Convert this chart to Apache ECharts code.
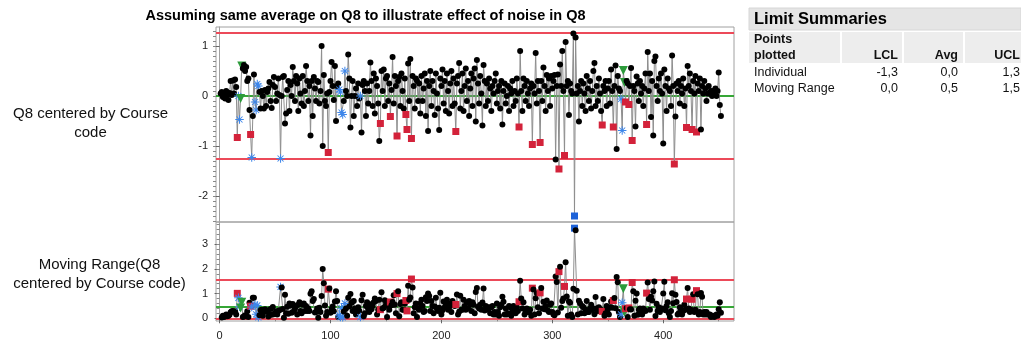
<!DOCTYPE html>
<html>
<head>
<meta charset="utf-8">
<script src="https://cdn.jsdelivr.net/npm/echarts@6/dist/echarts.min.js"></script>
<style>
  html, body { margin: 0; padding: 0; background: #ffffff; }
  #chart { width: 1021px; height: 343px; }
</style>
</head>
<body>
<div id="chart"></div>
<script>
// Individual values of Q8 centered by course code, one per response (1..452)
const individual = [
  0.05,0.08,-0.02,0.03,-0.05,0.10,0.02,-0.08,0.06,0.30,
  0.02,0.31,0.05,0.33,0.18,-0.83,0.00,-0.47,-0.05,0.60,
  0.55,0.62,0.50,0.58,0.30,0.35,-0.28,-0.77,-1.23,-0.40,
  0.43,-0.12,-0.28,0.24,0.20,0.08,-0.25,0.10,0.00,-0.25,
  0.12,-0.20,0.08,0.15,0.28,-0.10,-0.24,0.22,0.38,0.18,
  -0.10,0.05,0.35,0.02,-1.25,0.00,0.38,0.40,-0.55,-0.35,
  0.12,0.30,-0.30,0.22,0.00,0.58,0.30,-0.10,0.40,0.25,
  -0.30,0.35,0.05,-0.15,0.40,-0.20,0.10,0.60,0.30,-0.10,
  0.20,-0.79,0.30,-0.40,0.38,0.15,-0.10,0.30,0.28,-0.15,
  0.10,1.00,-1.00,0.42,-0.10,-0.20,0.05,-1.13,0.08,0.30,
  0.68,0.20,-0.08,0.60,-0.50,0.20,0.25,0.13,0.08,-0.33,
  -0.37,-0.10,0.50,0.10,0.00,0.83,0.35,-0.63,0.00,0.30,
  -0.40,0.00,0.15,-0.20,0.25,-0.05,0.00,-0.73,0.22,0.30,
  0.10,-0.40,0.25,-0.15,0.10,0.67,0.30,-0.20,0.45,-0.35,
  0.35,0.20,-0.15,-0.90,-0.55,0.50,0.10,0.53,-0.20,0.35,
  0.40,-0.10,0.25,-0.41,0.12,0.78,-0.15,0.40,0.20,-0.80,
  0.30,0.38,-0.20,0.45,0.10,-0.25,0.35,-0.37,-0.67,0.65,
  -0.10,0.74,-0.85,0.40,0.20,-0.25,0.35,0.30,-0.10,0.25,
  -0.35,0.40,-0.10,0.15,0.45,-0.40,0.30,-0.70,0.20,0.50,
  -0.20,0.30,0.10,-0.38,0.45,0.05,-0.25,-0.68,0.35,0.20,
  0.53,-0.15,0.30,-0.30,0.45,0.10,-0.35,0.25,0.50,-0.20,
  0.35,-0.15,-0.71,0.25,0.40,0.66,-0.25,0.10,0.45,-0.30,
  0.20,0.55,-0.10,0.30,-0.40,0.15,0.45,-0.20,0.35,0.55,
  -0.51,0.72,0.25,-0.15,0.40,0.05,-0.59,0.62,0.30,-0.20,
  0.25,-0.10,0.35,0.15,-0.30,0.20,0.05,0.30,0.45,-0.15,
  0.10,0.20,-0.25,0.30,-0.57,0.10,0.25,-0.15,0.00,0.20,
  -0.30,0.15,0.05,0.30,-0.20,0.10,-0.10,0.35,0.05,-0.62,
  0.90,0.10,-0.30,0.35,0.20,-0.10,0.30,0.05,-0.20,0.15,
  0.25,-0.97,0.20,0.05,0.86,-0.15,0.30,0.10,-0.93,0.30,
  -0.10,0.57,0.20,-0.30,0.42,0.10,0.35,-0.20,0.40,0.15,
  0.30,0.42,-1.27,0.20,0.43,-1.46,0.63,0.20,0.90,0.10,
  -1.19,1.08,0.20,0.30,-0.38,0.25,0.10,0.05,1.25,-2.40,
  1.17,0.05,0.20,-0.51,0.10,0.30,-0.20,0.25,0.05,-0.30,
  0.40,0.15,-0.10,0.30,-0.25,0.10,0.50,0.66,-0.20,0.20,
  -0.10,0.35,0.05,-0.30,-0.58,0.20,0.10,0.30,-0.20,0.15,
  0.30,-0.15,0.53,0.10,-0.62,0.20,0.61,-1.06,0.40,0.15,
  0.10,-0.06,-0.69,0.51,0.27,-0.12,0.30,0.25,-0.17,0.20,
  0.56,-0.89,0.20,0.10,-0.61,0.39,0.25,-0.10,0.30,0.05,
  0.20,-0.20,0.15,0.45,-0.57,0.88,0.10,0.45,-0.42,0.30,
  -0.79,0.70,0.79,0.20,-0.10,0.35,0.10,0.45,0.05,-0.95,
  0.53,0.20,-0.30,0.35,0.15,0.10,-0.20,0.81,0.20,-1.36,
  -0.41,0.25,0.10,0.30,-0.15,0.20,0.05,0.35,-0.20,0.15,
  -0.63,0.60,0.20,0.45,0.10,-0.67,0.30,0.05,0.40,-0.72,
  0.25,0.10,0.35,-0.67,0.20,0.05,0.30,0.15,-0.10,0.05,
  0.20,0.05,0.10,0.00,0.10,0.05,0.15,0.00,0.10,0.47,
  -0.18,-0.40
];

// Moving range between consecutive responses (none for the first one)
const movingRange = [
  null,0.03,0.10,0.05,0.08,0.15,0.08,0.10,0.14,0.24,
  0.28,0.29,0.26,0.28,0.15,1.01,0.83,0.47,0.42,0.65,
  0.05,0.07,0.12,0.08,0.28,0.05,0.63,0.49,0.46,0.83,
  0.83,0.55,0.16,0.52,0.04,0.12,0.33,0.35,0.10,0.25,
  0.37,0.32,0.28,0.07,0.13,0.38,0.14,0.46,0.16,0.20,
  0.28,0.15,0.30,0.33,1.27,1.25,0.38,0.02,0.95,0.20,
  0.47,0.18,0.60,0.52,0.22,0.58,0.28,0.40,0.50,0.15,
  0.55,0.65,0.30,0.20,0.55,0.60,0.30,0.50,0.30,0.40,
  0.30,0.99,1.09,0.70,0.78,0.23,0.25,0.40,0.02,0.43,
  0.25,0.90,2.00,1.42,0.52,0.10,0.25,1.18,1.21,0.22,
  0.38,0.48,0.28,0.68,1.10,0.70,0.05,0.12,0.05,0.41,
  0.04,0.27,0.60,0.40,0.10,0.83,0.48,0.98,0.63,0.30,
  0.70,0.40,0.15,0.35,0.45,0.30,0.05,0.73,0.95,0.08,
  0.20,0.50,0.65,0.40,0.25,0.57,0.37,0.50,0.65,0.80,
  0.70,0.15,0.35,0.75,0.35,1.05,0.40,0.43,0.73,0.55,
  0.05,0.50,0.35,0.66,0.53,0.66,0.93,0.55,0.20,1.00,
  1.10,0.08,0.58,0.65,0.35,0.35,0.60,0.72,0.30,1.32,
  0.75,0.84,1.59,1.25,0.20,0.45,0.60,0.05,0.40,0.35,
  0.60,0.75,0.50,0.25,0.30,0.85,0.70,1.00,0.90,0.30,
  0.70,0.50,0.20,0.48,0.83,0.40,0.30,0.43,1.03,0.15,
  0.33,0.68,0.45,0.60,0.75,0.35,0.45,0.60,0.25,0.70,
  0.55,0.50,0.56,0.96,0.15,0.26,0.91,0.35,0.35,0.75,
  0.50,0.35,0.65,0.40,0.70,0.55,0.30,0.65,0.55,0.20,
  1.06,1.23,0.47,0.40,0.55,0.35,0.64,1.21,0.32,0.50,
  0.45,0.35,0.45,0.20,0.45,0.50,0.15,0.25,0.15,0.60,
  0.25,0.10,0.45,0.55,0.87,0.67,0.15,0.40,0.15,0.20,
  0.50,0.45,0.10,0.25,0.50,0.30,0.20,0.45,0.30,0.67,
  1.52,0.80,0.40,0.65,0.15,0.30,0.40,0.25,0.25,0.35,
  0.10,1.22,1.17,0.15,0.81,1.01,0.45,0.20,1.03,1.23,
  0.40,0.67,0.37,0.50,0.72,0.32,0.25,0.55,0.60,0.25,
  0.15,0.12,1.69,1.47,0.23,1.89,2.09,0.43,0.70,0.80,
  1.29,2.27,0.88,0.10,0.68,0.63,0.15,0.05,1.20,3.65,
  3.57,1.12,0.15,0.71,0.61,0.20,0.50,0.45,0.20,0.35,
  0.70,0.25,0.25,0.40,0.55,0.35,0.40,0.16,0.86,0.40,
  0.30,0.45,0.30,0.35,0.28,0.78,0.10,0.20,0.50,0.35,
  0.15,0.45,0.68,0.43,0.72,0.82,0.41,1.67,1.46,0.25,
  0.05,0.16,0.63,1.20,0.24,0.39,0.42,0.05,0.42,0.37,
  0.36,1.45,1.09,0.10,0.71,1.00,0.14,0.35,0.40,0.25,
  0.15,0.40,0.35,0.30,1.02,1.45,0.78,0.35,0.87,0.72,
  1.09,1.49,0.09,0.59,0.30,0.45,0.25,0.35,0.40,1.00,
  1.48,0.33,0.50,0.65,0.20,0.05,0.30,1.01,0.61,1.56,
  0.95,0.66,0.15,0.20,0.45,0.35,0.15,0.30,0.55,0.35,
  0.78,1.23,0.40,0.25,0.35,0.77,0.97,0.25,0.35,1.12,
  0.97,0.15,0.25,1.02,0.87,0.15,0.25,0.15,0.25,0.15,
  0.15,0.15,0.05,0.10,0.10,0.05,0.10,0.15,0.10,0.37,
  0.65,0.22
];

// Responses flagged by the control-chart tests (1-based positions)
const redSquarePoints = [16,28,98,145,154,160,168,169,173,213,270,282,289,306,311,345,355,366,369,372,385,410,421,426,430];
const blueStarPoints = [17,18,29,32,33,34,35,55,108,109,110,111,113,127,362,363];
const greenTrianglePoints = [19,20,364,365];
const blueSquarePoints = [320];

// Control limits: [LCL, Avg, UCL]
const individualLimits = [-1.26, 0.0, 1.26];
const movingRangeLimits = [0.0, 0.474, 1.55];

// Axis ticks
const xTickValues = [0, 100, 200, 300, 400];
const xMinorTickValues = [50, 150, 250, 350, 450];
const individualTickValues = [-2, -1, 0, 1];
const movingRangeTickValues = [0, 1, 2, 3];

// Limit summary table
const summaryColumns = ['LCL', 'Avg', 'UCL'];
const summaryRows = ['Individual', 'Moving Range'];
const summaryValues = [['-1,3', '0,0', '1,3'], ['0,0', '0,5', '1,5']];

const FONT = '"Liberation Sans", Arial, Helvetica, sans-serif';
const RED_LINE = '#ec4a59';
const GREEN_LINE = '#36a636';

function minorSteps(lo, hi, step) {
  const out = [];
  for (let k = Math.round(lo / step); k * step <= hi + 1e-9; k++) out.push(+(k * step).toFixed(4));
  return out;
}

const STAR_PATH = 'path://M44,0L56,0L56,100L44,100Z M0,44L100,44L100,56L0,56Z ' +
  'M18.8,10.4L89.6,81.2L81.2,89.6L10.4,18.8Z M81.2,10.4L89.6,18.8L18.8,89.6L10.4,81.2Z';

const redSet = new Set(redSquarePoints);
const starSet = new Set(blueStarPoints);
const greenSet = new Set(greenTrianglePoints);
const blueSqSet = new Set(blueSquarePoints);

function styledPoints(values) {
  return values.map((v, k) => {
    const n = k + 1;
    const item = { value: [n, v === null ? '-' : v] };
    if (blueSqSet.has(n)) {
      item.symbol = 'rect'; item.symbolSize = 7; item.itemStyle = { color: '#1d62d8' };
    } else if (redSet.has(n)) {
      item.symbol = 'rect'; item.symbolSize = 7; item.itemStyle = { color: '#d3223a' };
    } else if (starSet.has(n)) {
      item.symbol = STAR_PATH; item.symbolSize = 8.5; item.itemStyle = { color: '#3d86ea' };
    } else if (greenSet.has(n)) {
      item.symbol = 'triangle'; item.symbolSize = 9; item.symbolRotate = 180; item.itemStyle = { color: '#2c9b3b' };
    }
    return item;
  });
}

function limitMarks(limits) {
  return {
    silent: true,
    symbol: ['none', 'none'],
    label: { show: false },
    z: 1,
    data: [
      { yAxis: limits[0], lineStyle: { color: RED_LINE, width: 2, type: 'solid' } },
      { yAxis: limits[1], lineStyle: { color: GREEN_LINE, width: 2, type: 'solid' } },
      { yAxis: limits[2], lineStyle: { color: RED_LINE, width: 2, type: 'solid' } }
    ]
  };
}

const X_MIN = -3.2, X_MAX = 463.8;
const Y1_MIN = -2.52, Y1_MAX = 1.38;
const Y2_MIN = -0.11, Y2_MAX = 3.9;

const labelStyle = { color: '#222', fontFamily: FONT, fontSize: 11 };

function mainYAxis(grid, min, max, ticks) {
  return {
    type: 'value', gridIndex: grid, min: min, max: max, position: 'left',
    axisLine: { show: true, lineStyle: { color: '#a0a0a0' } },
    axisTick: { show: true, length: 5, customValues: ticks, lineStyle: { color: '#666' } },
    axisLabel: Object.assign({ margin: 8, customValues: ticks }, labelStyle),
    splitLine: { show: false }
  };
}
function minorYAxis(grid, min, max, ticks) {
  return {
    type: 'value', gridIndex: grid, min: min, max: max, position: 'left',
    axisLine: { show: false },
    axisTick: { show: true, length: 3, customValues: ticks, lineStyle: { color: '#888' } },
    axisLabel: { show: false },
    splitLine: { show: false }
  };
}

const chart = echarts.init(document.getElementById('chart'), null, { renderer: 'canvas' });

const option = {
  animation: false,
  backgroundColor: '#ffffff',
  grid: [
    { left: 216, top: 27, width: 518, height: 195, show: true, borderColor: '#a0a0a0', borderWidth: 1 },
    { left: 216, top: 222, width: 518, height: 99, show: true, borderColor: '#a0a0a0', borderWidth: 1 }
  ],
  xAxis: [
    { type: 'value', gridIndex: 0, min: X_MIN, max: X_MAX,
      axisLine: { show: false }, axisTick: { show: false }, axisLabel: { show: false }, splitLine: { show: false } },
    { type: 'value', gridIndex: 1, min: X_MIN, max: X_MAX,
      axisLine: { show: true, lineStyle: { color: '#a0a0a0' } },
      axisTick: { show: true, length: 5, customValues: xTickValues, lineStyle: { color: '#666' } },
      axisLabel: Object.assign({ margin: 9, customValues: xTickValues }, labelStyle),
      splitLine: { show: false } },
    { type: 'value', gridIndex: 1, min: X_MIN, max: X_MAX, position: 'bottom',
      axisLine: { show: false },
      axisTick: { show: true, length: 3, customValues: xMinorTickValues, lineStyle: { color: '#888' } },
      axisLabel: { show: false }, splitLine: { show: false } }
  ],
  yAxis: [
    mainYAxis(0, Y1_MIN, Y1_MAX, individualTickValues),
    minorYAxis(0, Y1_MIN, Y1_MAX, minorSteps(-2.5, 1.3, 0.1)),
    mainYAxis(1, Y2_MIN, Y2_MAX, movingRangeTickValues),
    minorYAxis(1, Y2_MIN, Y2_MAX, minorSteps(0, 3.8, 0.2))
  ],
  series: [
    {
      name: 'Individual', type: 'line', xAxisIndex: 0, yAxisIndex: 0, z: 3,
      data: styledPoints(individual),
      showAllSymbol: true, symbol: 'circle', symbolSize: 6,
      itemStyle: { color: '#000000' },
      lineStyle: { color: '#8e8e8e', width: 1 },
      markLine: limitMarks(individualLimits)
    },
    {
      name: 'Moving Range', type: 'line', xAxisIndex: 1, yAxisIndex: 2, z: 3,
      data: styledPoints(movingRange),
      showAllSymbol: true, symbol: 'circle', symbolSize: 6,
      itemStyle: { color: '#000000' },
      lineStyle: { color: '#8e8e8e', width: 1 },
      markLine: limitMarks(movingRangeLimits)
    }
  ],
  graphic: (function () {
    const g = [];
    const txt = (x, y, text, opts) => g.push({
      type: 'text', x: x, y: y, silent: true,
      style: Object.assign({ text: text, fill: '#111', fontFamily: FONT, fontSize: 12.5,
        textAlign: 'left', textVerticalAlign: 'middle' }, opts || {})
    });
    // chart title
    txt(365.5, 16, 'Assuming same average on Q8 to illustrate effect of noise in Q8',
      { fontWeight: 'bold', fontSize: 14.5, textAlign: 'center', fill: '#000' });
    // y-axis titles
    txt(90.5, 114, 'Q8 centered by Course', { fontSize: 15, textAlign: 'center' });
    txt(90.5, 133, 'code', { fontSize: 15, textAlign: 'center' });
    txt(99.5, 265, 'Moving Range(Q8', { fontSize: 15, textAlign: 'center' });
    txt(99.5, 283.5, 'centered by Course code)', { fontSize: 15, textAlign: 'center' });
    // limit summary table
    g.push({ type: 'rect', silent: true, shape: { x: 749, y: 8, width: 272, height: 22 },
      style: { fill: '#e5e5e5', stroke: '#d6d6d6', lineWidth: 1 } });
    txt(754, 19.5, 'Limit Summaries', { fontWeight: 'bold', fontSize: 16.5, fill: '#000' });
    g.push({ type: 'rect', silent: true, shape: { x: 749, y: 32, width: 272, height: 31 },
      style: { fill: '#ededed' } });
    [840, 902, 963].forEach(function (sx) {
      g.push({ type: 'rect', silent: true, shape: { x: sx, y: 32, width: 2, height: 31 }, style: { fill: '#ffffff' } });
    });
    txt(754, 40, 'Points', { fontWeight: 'bold' });
    txt(754, 55.5, 'plotted', { fontWeight: 'bold' });
    const colRight = [898, 958, 1020];
    summaryColumns.forEach(function (c, j) {
      txt(colRight[j], 55.5, c, { fontWeight: 'bold', textAlign: 'right' });
    });
    const rowY = [73, 88.5];
    summaryRows.forEach(function (r, i) {
      txt(754, rowY[i], r);
      summaryValues[i].forEach(function (v, j) {
        txt(colRight[j], rowY[i], v, { textAlign: 'right' });
      });
    });
    return g;
  })()
};

chart.setOption(option);
</script>
</body>
</html>
